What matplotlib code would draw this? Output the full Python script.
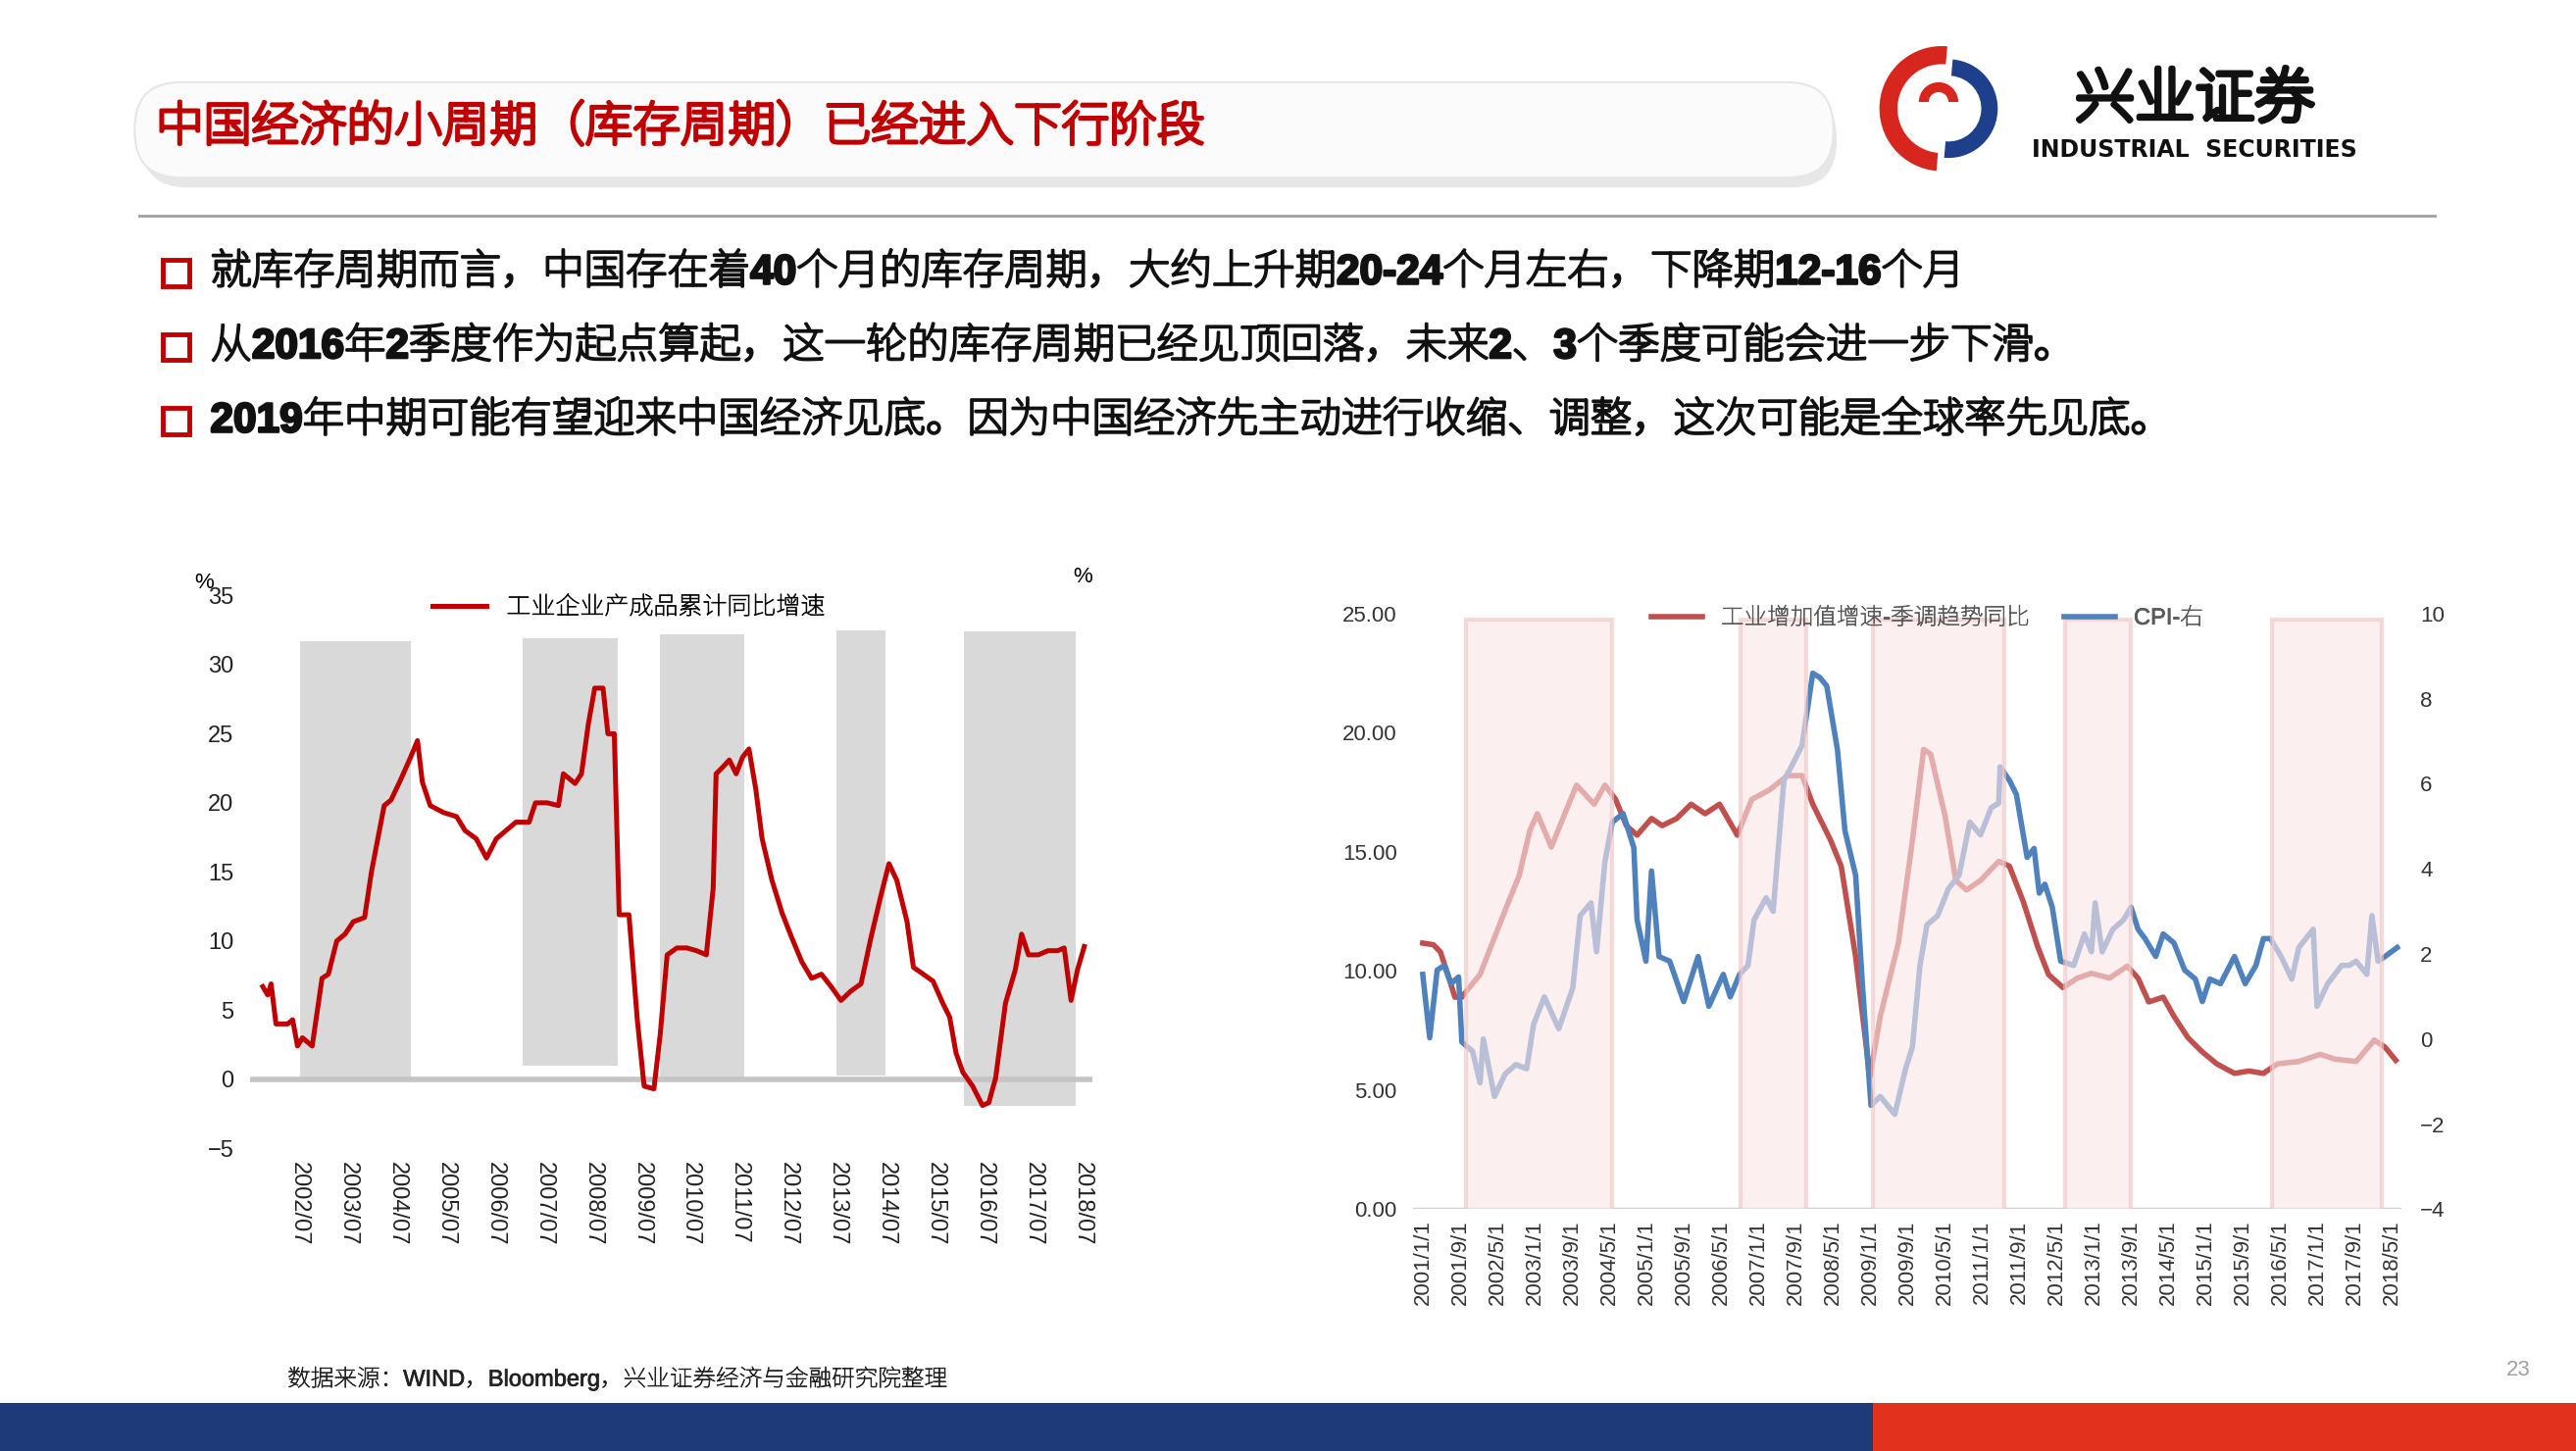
import matplotlib
matplotlib.use("Agg")
import glob, os
import matplotlib.pyplot as plt
import matplotlib.patheffects as pe
from matplotlib.patches import Rectangle, FancyBboxPatch, Wedge
from matplotlib import font_manager as fm

def pick_cjk():
    wanted = ["Noto Sans CJK SC", "Noto Sans SC", "Noto Sans CJK JP", "Noto Sans CJK TC",
              "Source Han Sans SC", "Noto Serif CJK SC", "Noto Serif SC", "WenQuanYi Zen Hei",
              "Chiron Hei HK", "IBM Plex Sans JP"]
    have = {f.name for f in fm.fontManager.ttflist}
    for w in wanted:
        if w in have:
            return w
    for pat in ["/usr/share/fonts/**/*CJK*", "/usr/share/fonts/**/*SC*", "/usr/share/fonts/**/*Hei*"]:
        for p in glob.glob(pat, recursive=True):
            if os.path.isfile(p):
                try:
                    fm.fontManager.addfont(p)
                    return fm.FontProperties(fname=p).get_name()
                except Exception:
                    pass
    return "DejaVu Sans"

FONT = pick_cjk()
plt.rcParams["font.family"] = ["Liberation Sans", FONT, "DejaVu Sans"]

def bold(color, w=1.4):
    return [pe.withStroke(linewidth=w, foreground=color)]

# ---------------- data: left chart (industrial finished goods inventory, cumulative YoY %) ----------
inv_year = [2001.76, 2001.86, 2001.93, 2002.03, 2002.27, 2002.37, 2002.47, 2002.57, 2002.77, 2002.97,
            2003.10, 2003.27, 2003.44, 2003.61, 2003.84, 2003.98, 2004.11, 2004.24, 2004.38, 2004.58,
            2004.78, 2004.92, 2005.02, 2005.18, 2005.45, 2005.72, 2005.89, 2006.12, 2006.33, 2006.53,
            2006.73, 2006.93, 2007.20, 2007.33, 2007.57, 2007.80, 2007.90, 2008.14, 2008.27, 2008.41,
            2008.54, 2008.71, 2008.81, 2008.94, 2009.04, 2009.24, 2009.41, 2009.55, 2009.75, 2009.88,
            2010.02, 2010.22, 2010.42, 2010.62, 2010.82, 2010.96, 2011.02, 2011.16, 2011.29, 2011.43,
            2011.56, 2011.69, 2011.83, 2011.96, 2012.16, 2012.37, 2012.57, 2012.77, 2012.97, 2013.17,
            2013.37, 2013.57, 2013.78, 2013.98, 2014.18, 2014.38, 2014.55, 2014.71, 2014.92, 2015.05,
            2015.25, 2015.45, 2015.65, 2015.79, 2015.92, 2016.06, 2016.26, 2016.46, 2016.59, 2016.73,
            2016.93, 2017.13, 2017.26, 2017.40, 2017.60, 2017.80, 2018.00, 2018.13, 2018.27, 2018.40,
            2018.54]
inv_value = [6.7, 6.1, 6.9, 4.0, 4.0, 4.3, 2.4, 3.0, 2.4, 7.3,
             7.6, 10.0, 10.5, 11.4, 11.7, 15.0, 17.4, 19.8, 20.2, 21.7,
             23.3, 24.5, 21.5, 19.8, 19.3, 19.0, 18.0, 17.4, 16.0, 17.4,
             18.0, 18.6, 18.6, 20.0, 20.0, 19.8, 22.1, 21.4, 22.1, 25.7,
             28.3, 28.3, 25.0, 25.0, 11.9, 11.9, 4.3, -0.5, -0.7, 3.3,
             9.0, 9.5, 9.5, 9.3, 9.0, 13.8, 22.1, 22.6, 23.1, 22.1,
             23.3, 23.9, 21.0, 17.4, 14.4, 12.0, 10.2, 8.5, 7.3, 7.6,
             6.7, 5.7, 6.4, 6.9, 10.2, 13.2, 15.6, 14.4, 11.4, 8.1,
             7.6, 7.1, 5.5, 4.5, 1.9, 0.5, -0.5, -1.9, -1.7, 0.1,
             5.5, 7.9, 10.5, 9.0, 9.0, 9.3, 9.3, 9.5, 5.7, 7.9,
             9.6]
inv_band_start = [2002.53, 2007.06, 2009.88, 2013.47, 2016.09]
inv_band_end = [2004.78, 2009.01, 2011.59, 2014.48, 2018.37]
inv_band_low = [0.0, 1.0, 0.0, 0.3, -1.9]
inv_band_high = [31.7, 31.9, 32.2, 32.5, 32.4]
inv_ticks_years = list(range(2002, 2019))

# ---------------- data: right chart (months since 2001-01) ----------------
iva_month = [0, 2.3, 3.8, 5.4, 6.9, 8.4, 10, 12.3, 15.4, 18.4, 20.7, 23, 24.6, 27.6, 30.7, 33, 36.8,
             39.1, 41.4, 43.7, 46, 49.1, 51.4, 54.5, 57.6, 60.6, 63.7, 67.5, 70.6, 74.4, 78.3, 81.4,
             83.7, 87.5, 89.8, 92.9, 95.2, 95.9, 98.2, 102.1, 105.1, 107.5, 109, 112.1, 114.4, 116.7,
             119.7, 123.6, 125.9, 128.9, 132, 134.3, 137.4, 140.5, 143.5, 147.4, 151.2, 153.5, 155.8,
             158.9, 161.2, 164.2, 167.3, 170.4, 174.2, 177.3, 180.4, 183.4, 188, 192.6, 195.7, 200.3,
             204.2, 206.5, 208.8]
iva_value = [11.17, 11.1, 10.8, 9.85, 8.9, 8.9, 9.3, 9.85, 11.4, 12.9, 14.0, 15.9, 16.6, 15.2, 16.7,
             17.8, 17.0, 17.8, 17.2, 16.1, 15.7, 16.4, 16.1, 16.4, 17.0, 16.6, 17.0, 15.7, 17.2, 17.6,
             18.2, 18.2, 17.0, 15.5, 14.4, 10.6, 6.8, 5.5, 8.1, 11.2, 15.5, 19.3, 19.1, 16.5, 13.8,
             13.4, 13.8, 14.6, 14.4, 12.9, 11.0, 9.85, 9.3, 9.7, 9.9, 9.7, 10.2, 9.7, 8.7, 8.9, 8.1,
             7.2, 6.6, 6.1, 5.7, 5.8, 5.7, 6.1, 6.2, 6.5, 6.3, 6.2, 7.1, 6.8, 6.25]
cpi_month = [0, 1.5, 3.1, 4.6, 6.1, 7.7, 8.4, 10.7, 12.3, 13, 15.4, 17.7, 20, 22.3, 23.8, 26.1, 29.2,
             32.2, 33.8, 36.1, 37.3, 39.1, 40.7, 43, 45.3, 46, 47.9, 49.1, 50.7, 53, 56, 59.1, 61.4,
             64.5, 66, 68, 69.8, 71.1, 73.7, 75.2, 77.5, 79.1, 81.4, 83.7, 85.2, 86.7, 89, 90.6, 92.9,
             94.4, 96.2, 98.2, 101.3, 103.6, 105.1, 106.7, 108.2, 110.5, 112.8, 115.1, 117.4, 119.7,
             122, 123.6, 123.9, 125.9, 127.4, 129.7, 131.2, 132.3, 133.5, 135.1, 136.9, 139.7, 142,
             143.5, 144.3, 145.8, 148.1, 150.4, 152, 153.5, 155, 157.3, 158.9, 161.2, 163.5, 165.8,
             167.3, 168.9, 171.2, 174.2, 176.5, 178.8, 180.4, 181.9, 184.2, 186.5, 188, 191.1, 191.9,
             194.2, 197.2, 198.8, 200.3, 202.6, 203.7, 205, 206.5, 209.1]
cpi_value = [1.52, 0.03, 1.62, 1.73, 1.3, 1.46, -0.07, -0.29, -1.03, 0.0, -1.35, -0.82, -0.6, -0.7,
             0.35, 0.99, 0.24, 1.2, 2.9, 3.2, 2.05, 4.17, 5.1, 5.3, 4.5, 2.8, 1.83, 3.95, 1.94, 1.83,
             0.88, 1.94, 0.77, 1.52, 0.99, 1.52, 1.73, 2.8, 3.32, 3.0, 6.08, 6.4, 6.9, 8.6, 8.5, 8.3,
             6.8, 4.9, 3.85, 1.2, -1.56, -1.35, -1.77, -0.71, -0.18, 1.73, 2.68, 2.9, 3.53, 3.85, 5.1,
             4.8, 5.44, 5.54, 6.4, 6.08, 5.75, 4.27, 4.48, 3.43, 3.64, 3.1, 1.83, 1.73, 2.47, 2.05,
             3.2, 2.05, 2.58, 2.8, 3.1, 2.58, 2.36, 1.94, 2.47, 2.26, 1.62, 1.41, 0.88, 1.41, 1.3,
             1.94, 1.3, 1.73, 2.36, 2.36, 1.94, 1.41, 2.15, 2.58, 0.77, 1.3, 1.73, 1.73, 1.83, 1.52,
             2.9, 1.83, 1.94, 2.15]
band_start_month = [9.2, 68.3, 96.7, 137.8, 182.2]
band_end_month = [40.7, 82.4, 124.8, 152.0, 205.8]
right_tick_months = list(range(0, 209, 8))

title = "中国经济的小周期（库存周期）已经进入下行阶段"
bullets = ["就库存周期而言，中国存在着40个月的库存周期，大约上升期20-24个月左右，下降期12-16个月",
           "从2016年2季度作为起点算起，这一轮的库存周期已经见顶回落，未来2、3个季度可能会进一步下滑。",
           "2019年中期可能有望迎来中国经济见底。因为中国经济先主动进行收缩、调整，这次可能是全球率先见底。"]

W, H = 1568.0, 882.0
fig = plt.figure(figsize=(26.27, 14.8), dpi=100)
fig.patch.set_facecolor("white")

bg = fig.add_axes([0, 0, 1, 1])
bg.set_xlim(0, W); bg.set_ylim(H, 0); bg.axis("off")

# title banner
bg.add_patch(FancyBboxPatch((86, 56), 1032, 58, boxstyle="round,pad=0,rounding_size=28",
                            fc="#d8d8d8", ec="none", alpha=0.6))
bg.add_patch(FancyBboxPatch((82, 50), 1034, 58, boxstyle="round,pad=0,rounding_size=28",
                            fc="#fbfbfb", ec="#e6e6e6", lw=1.5))
bg.text(95, 78, title, color="#c00000", fontsize=35, fontweight="bold", va="center", ha="left",
        path_effects=bold("#c00000", 2.6))

# logo
bg.add_patch(Wedge((1182, 66), 38, 95, 275, width=11, fc="#d7261e", ec="none"))
bg.add_patch(Wedge((1186, 66), 30, 275, 95, width=10, fc="#1d3f8c", ec="none"))
bg.add_patch(Wedge((1180, 62), 12, 180, 360, width=6, fc="#d7261e", ec="none"))
bg.text(1336, 62, "兴业证券", fontsize=44, fontweight="bold", ha="center", va="center", color="#111111",
        path_effects=bold("#111111", 4))
bg.text(1336, 91, "INDUSTRIAL  SECURITIES", fontsize=17, fontweight="bold", ha="center", va="center",
        color="#111111", family="DejaVu Sans")
bg.plot([85, 1482], [131, 131], color="#a0a0a0", lw=2)

for i, b in enumerate(bullets):
    y = 166 + 45 * i
    bg.add_patch(Rectangle((99, y - 8), 16, 16, fc="white", ec="#c00000", lw=3.5))
    bg.text(128, y, b, fontsize=30.5, fontweight="bold", va="center", ha="left", color="#111111",
            path_effects=bold("#111111", 1.8))

# bottom bars
bg.add_patch(Rectangle((0, 853), 1140, 29, fc="#1f3a78", ec="none"))
bg.add_patch(Rectangle((1140, 853), W - 1140, 29, fc="#e2321b", ec="none"))
bg.text(1533, 833, "23", fontsize=16, color="#a0a0a0", ha="center", va="center")
bg.text(175, 838, "数据来源：WIND，Bloomberg，兴业证券经济与金融研究院整理", fontsize=17,
        color="#222222", ha="left", va="center", path_effects=bold("#222222", 0.5))

def fx(px): return px / W
def fy(py): return 1 - py / H

# ---------------- left chart ----------------
x0l, x1l = 2001.5, 2018.7
left_px = 182 - (2002.5 - x0l) * 29.8
right_px = 182 + (x1l - 2002.5) * 29.8
axl = fig.add_axes([fx(left_px), fy(698), fx(right_px) - fx(left_px), fy(362) - fy(698)])
axl.set_xlim(x0l, x1l); axl.set_ylim(-5, 35)
for s in axl.spines.values(): s.set_visible(False)
for xs, xe, lo, hi in zip(inv_band_start, inv_band_end, inv_band_low, inv_band_high):
    axl.add_patch(Rectangle((xs, lo), xe - xs, hi - lo, fc="#d9d9d9", ec="none", zorder=1))
axl.axhline(0, color="#c4c4c4", lw=4, zorder=2)
axl.plot(inv_year, inv_value, color="#c00000", lw=3.6, zorder=3,
         label="工业企业产成品累计同比增速")
axl.set_yticks(range(-5, 36, 5))
axl.set_xticks([y + 0.5 for y in inv_ticks_years])
axl.set_xticklabels([f"{y}/07" for y in inv_ticks_years], rotation=-90)
axl.tick_params(length=0, labelsize=17, colors="#222222")
axl.tick_params(axis="x", pad=10)
axl.tick_params(axis="y", pad=12)
leg = axl.legend(loc="upper center", bbox_to_anchor=(0.45, 1.04), frameon=False, fontsize=18,
                 handlelength=2.2)
for t in leg.get_texts():
    t.set_path_effects(bold("#222222", 0.6))
bg.text(124, 354, "%", fontsize=16, ha="center", va="center")
bg.text(659, 351, "%", fontsize=16, ha="center", va="center")

# ---------------- right chart ----------------
ppm = 590 / 208.0
m0, m1 = -2, 210
axr = fig.add_axes([fx(866 + m0 * ppm), fy(735), (m1 - m0) * ppm / W, fy(373) - fy(735)])
axr.set_xlim(m0, m1); axr.set_ylim(0, 25)
axr2 = axr.twinx()
axr2.set_ylim(-4, 10)
for a in (axr, axr2):
    for s in a.spines.values(): s.set_visible(False)
axr.axhline(0, color="#d0d0d0", lw=2.5, zorder=1)
l1, = axr.plot(iva_month, iva_value, color="#c0504d", lw=4, zorder=3, label="工业增加值增速-季调趋势同比")
l2, = axr2.plot(cpi_month, cpi_value, color="#4f81bd", lw=4, zorder=3, label="CPI-右")
for xs, xe in zip(band_start_month, band_end_month):
    axr2.add_patch(Rectangle((xs, -4.25), xe - xs, 14.1, fc="#f9e6e6", ec="#f0c4c4", lw=3,
                             alpha=0.62, zorder=5))
axr.set_yticks([0, 5, 10, 15, 20, 25])
axr.set_yticklabels([f"{v:.2f}" for v in [0, 5, 10, 15, 20, 25]])
axr2.set_yticks(range(-4, 11, 2))
axr.set_xticks(right_tick_months)
axr.set_xticklabels([f"{2001 + m // 12}/{m % 12 + 1}/1" for m in right_tick_months], rotation=90)
axr.tick_params(length=0, labelsize=16, colors="#333333")
axr.tick_params(axis="x", pad=8)
axr.tick_params(axis="y", pad=12)
axr2.tick_params(length=0, labelsize=16, colors="#333333", pad=14)
leg2 = axr2.legend([l1, l2], [l1.get_label(), l2.get_label()], loc="upper center",
                   bbox_to_anchor=(0.52, 1.045), ncol=2, frameon=False, fontsize=17, handlelength=2.2,
                   columnspacing=1.5, labelcolor="#595959")
for t in leg2.get_texts():
    t.set_path_effects(bold("#595959", 0.5))

fig.savefig("out.png", dpi=100)
